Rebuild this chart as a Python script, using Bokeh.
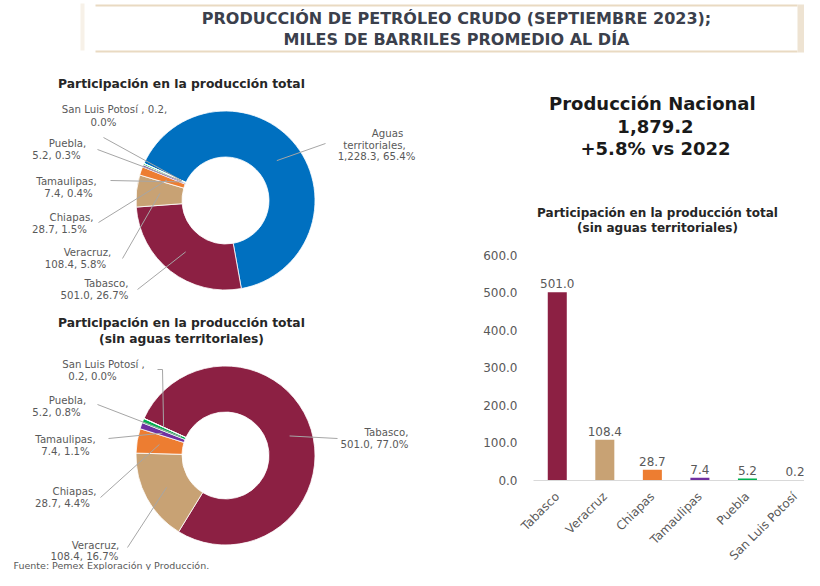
import math
from bokeh.plotting import figure
from bokeh.layouts import column, row
from bokeh.models import Range1d, NumeralTickFormatter, FixedTicker
from bokeh.core.properties import value
from bokeh.embed import file_html
from bokeh.resources import INLINE

# ---------------- data ----------------
titulo_1 = "PRODUCCIÓN DE PETRÓLEO CRUDO (SEPTIEMBRE 2023);"
titulo_2 = "MILES DE BARRILES PROMEDIO AL DÍA"
subtitulo_total = "Participación en la producción total"
subtitulo_sin = "(sin aguas territoriales)"
fuente = "Fuente: Pemex Exploración y Producción."

estados = ["Tabasco", "Veracruz", "Chiapas", "Tamaulipas", "Puebla", "San Luis Potosí"]
produccion = [501.0, 108.4, 28.7, 7.4, 5.2, 0.2]
aguas_nombre = "Aguas territoriales"
aguas = 1228.3
total_nacional = 1879.2
variacion_2022 = 5.8
pct_total = [65.4, 26.7, 5.8, 1.5, 0.4, 0.3, 0.0]   # Aguas, then estados
pct_sin_aguas = [77.0, 16.7, 4.4, 1.1, 0.8, 0.0]
y_ticks = [0, 100, 200, 300, 400, 500, 600]

colores = ["#8C2043", "#C8A274", "#ED7D31", "#7030A0", "#00B050", "#44546A"]
color_aguas = "#0070C0"

FONT = "DejaVu Sans"
GRAY = "#595959"
DARK = "#262626"
LBL = 10.2
TIT = 12.3

# ---------------- helpers ----------------
def blank(x0, x1, y0, y1):
    p = figure(width=x1 - x0, height=y1 - y0, x_range=Range1d(x0, x1), y_range=Range1d(-y1, -y0),
               output_backend="svg", toolbar_location=None,
               x_axis_location=None, y_axis_location=None,
               min_border=0, min_border_left=0, min_border_right=0,
               min_border_top=0, min_border_bottom=0)
    p.outline_line_color = None
    p.grid.visible = False
    p.background_fill_color = "white"
    p.border_fill_color = "white"
    return p


def txt(p, x, y, s, size, color=GRAY, bold=False, align="center"):
    p.text(x=[x], y=[y], text=[s], text_font=value(FONT), text_font_size=f"{size}px",
           text_color=color, text_align=align, text_baseline="middle",
           text_font_style="bold" if bold else "normal")


W, H = 804, 570
HDR_H = 55
LEFT_W = 452

# ---------------- header ----------------
hdr = blank(0, W, 0, HDR_H)
tan = "#E9DAC2"
hdr.segment(x0=[95, 95], y0=[-5, -51], x1=[797, 797], y1=[-5, -51], line_color=tan, line_width=2)
hdr.quad(left=[797], right=[804], top=[-4], bottom=[-52], fill_color="#EEE3D2", line_color=None)
hdr.quad(left=[80], right=[84], top=[-3], bottom=[-50], fill_color="#F7F1E8", line_color=None)
txt(hdr, 456, -18, titulo_1, 16, color="#3B404C", bold=True)
txt(hdr, 456, -39, titulo_2, 16, color="#3B404C", bold=True)

# ---------------- donuts ----------------
left = blank(0, LEFT_W, HDR_H, H)
R_OUT, R_IN = 89.5, 43.5
START = 155.5


def donut(p, cx, cy, vals, cols):
    tot = sum(vals)
    cum = 0.0
    a0s, a1s, mids = [], [], []
    for v in vals:
        a_start = START - cum / tot * 360.0
        cum += v
        a_end = START - cum / tot * 360.0
        a0s.append(math.radians(a_end))
        a1s.append(math.radians(a_start))
        mids.append((a_start + a_end) / 2.0)
    p.annular_wedge(x=[cx] * len(vals), y=[-cy] * len(vals),
                    inner_radius=R_IN, outer_radius=R_OUT,
                    inner_radius_units="screen", outer_radius_units="screen",
                    start_angle=a0s, end_angle=a1s, direction="anticlock",
                    fill_color=cols, line_color="white", line_width=0.8)
    return mids


def leaders(p, cx, cy, mids, anchors, radii):
    x0, y0, x1, y1 = [], [], [], []
    for m, (ax, ay), r in zip(mids, anchors, radii):
        x0.append(ax); y0.append(-ay)
        x1.append(cx + r * math.cos(math.radians(m)))
        y1.append(-cy + r * math.sin(math.radians(m)))
    p.segment(x0=x0, y0=y0, x1=x1, y1=y1, line_color="#A6A6A6", line_width=1)


# top donut
c1 = (225, 200)
txt(left, 181, -83, subtitulo_total, TIT, color=DARK, bold=True)
vals1 = [aguas] + produccion
mids1 = donut(left, c1[0], c1[1], vals1, [color_aguas] + colores)
anch1 = [(325, 143), (137, 289), (122, 258), (98, 222), (110, 180), (97, 149), (103, 137)]
rad1 = [65, 65, 66, 62, 48, 48, 48]
leaders(left, c1[0], c1[1], mids1, anch1, rad1)
lab1 = [
    [(387, 133, "Aguas"), (374, 144.5, "territoriales,"), (376, 156, f"{aguas:,.1f}, {pct_total[0]:.1f}%")],
    [(106, 283, f"{estados[0]},"), (94, 295, f"{produccion[0]:,.1f}, {pct_total[1]:.1f}%")],
    [(87, 252, f"{estados[1]},"), (75, 263.5, f"{produccion[1]:,.1f}, {pct_total[2]:.1f}%")],
    [(71, 217, f"{estados[2]},"), (59, 228.5, f"{produccion[2]:,.1f}, {pct_total[3]:.1f}%")],
    [(66, 181, f"{estados[3]},"), (68, 193, f"{produccion[3]:,.1f}, {pct_total[4]:.1f}%")],
    [(67, 143, f"{estados[4]},"), (56, 155, f"{produccion[4]:,.1f}, {pct_total[5]:.1f}%")],
    [(114, 109, f"{estados[5]} , {produccion[5]:,.1f},"), (103, 121.5, f"{pct_total[6]:.1f}%")],
]
for lines in lab1:
    for (x, y, s) in lines:
        txt(left, x, -y, s, LBL)

# bottom donut (block shifted up slightly to fit the page height)
dy = -3
c2 = (225, 458 + dy)
txt(left, 181, -(325 + dy), subtitulo_total, TIT, color=DARK, bold=True)
txt(left, 181, -(341 + dy), subtitulo_sin, TIT, color=DARK, bold=True)
mids2 = donut(left, c2[0], c2[1], produccion, colores)
anch2 = [(337, 441 + dy), (127, 550 + dy), (100, 500 + dy), (108, 441 + dy), (97, 407 + dy), (162, 372 + dy)]
rad2 = [67, 67, 67, 67, 48, 68]
leaders(left, c2[0], c2[1], mids2, anch2, rad2)
left.segment(x0=[157], y0=[-(372 + dy)], x1=[162], y1=[-(372 + dy)], line_color="#A6A6A6", line_width=1)
lab2 = [
    [(386, 435, f"{estados[0]},"), (374, 447, f"{produccion[0]:,.1f}, {pct_sin_aguas[0]:.1f}%")],
    [(95, 547.5, f"{estados[1]},"), (84, 558.5, f"{produccion[1]:,.1f}, {pct_sin_aguas[1]:.1f}%")],
    [(74, 494, f"{estados[2]},"), (62, 506, f"{produccion[2]:,.1f}, {pct_sin_aguas[2]:.1f}%")],
    [(65, 442, f"{estados[3]},"), (65, 454, f"{produccion[3]:,.1f}, {pct_sin_aguas[3]:.1f}%")],
    [(67, 403, f"{estados[4]},"), (56, 415, f"{produccion[4]:,.1f}, {pct_sin_aguas[4]:.1f}%")],
    [(103, 367, f"{estados[5]} ,"), (92, 379, f"{produccion[5]:,.1f}, {pct_sin_aguas[5]:.1f}%")],
]
for lines in lab2:
    for (x, y, s) in lines:
        txt(left, x, -(y + dy), s, LBL)
txt(left, 13, -565, fuente, 9.5, align="left")

# ---------------- bar chart (with the national figure texts above it) ----------------
FRAME_L, FRAME_R = 533, W          # frame edges in page pixels
Y0_PX, Y600_PX = 481, 255          # where 0 and 600 sit
NCAT_SPAN = 5.7                    # category units across the frame
ypp = 600.0 / (Y0_PX - Y600_PX)    # data units per pixel (vertical)
xpp = NCAT_SPAN / (FRAME_R - FRAME_L)


def to_bar(px, py):
    return (px - FRAME_L) * xpp, (Y0_PX - py) * ypp


xpos = [i + 0.5 for i in range(len(estados))]
bar = figure(width=W - LEFT_W, height=H - HDR_H, x_range=Range1d(0, NCAT_SPAN),
             y_range=Range1d(0, (Y0_PX - HDR_H) * ypp), output_backend="svg", toolbar_location=None,
             min_border_left=FRAME_L - LEFT_W, min_border_right=0,
             min_border_top=0, min_border_bottom=H - Y0_PX)
bar.outline_line_color = None
bar.grid.visible = False
bar.background_fill_color = "white"
bar.vbar(x=xpos, top=produccion, width=0.4, fill_color=colores, line_color=None)
bar.text(x=xpos, y=produccion, text=[f"{v:,.1f}" for v in produccion],
         text_font=value(FONT), text_font_size="12px", text_color=GRAY,
         text_align="center", text_baseline="bottom", y_offset=-4)

for (px, py, s, size) in [(655, 103, "Producción  Nacional", 18),
                          (655, 126, f"{total_nacional:,.1f}", 18),
                          (655, 148, f"+{variacion_2022:.1f}% vs 2022", 18)]:
    bx, by = to_bar(px, py)
    txt(bar, bx, by, s, size, color="#1A1A1A", bold=True)
for (px, py, s) in [(657, 213, subtitulo_total), (657, 228, subtitulo_sin)]:
    bx, by = to_bar(px, py)
    txt(bar, bx, by, s, 12, color=DARK, bold=True)

bar.yaxis.ticker = FixedTicker(ticks=y_ticks)
bar.yaxis.formatter = NumeralTickFormatter(format="0.0")
bar.yaxis.axis_line_color = None
bar.yaxis.major_tick_line_color = None
bar.yaxis.minor_tick_line_color = None
bar.yaxis.major_label_standoff = 10
bar.xaxis.ticker = FixedTicker(ticks=xpos)
bar.xaxis.major_label_overrides = {x: e for x, e in zip(xpos, estados)}
bar.xaxis.axis_line_color = "#D9D9D9"
bar.xaxis.major_tick_line_color = None
bar.xaxis.minor_tick_line_color = None
bar.xaxis.major_label_orientation = math.pi / 4
bar.xaxis.major_label_standoff = 8
for ax in (bar.xaxis, bar.yaxis):
    ax.major_label_text_font = FONT
    ax.major_label_text_font_size = "12px"
    ax.major_label_text_color = GRAY

# the bar figure is nested in its own column so that Bokeh does not align its frame with the donut figure
layout = column(hdr, row(left, column(bar, spacing=0), spacing=0), spacing=0)
open("out.html", "w").write(file_html(layout, INLINE))
